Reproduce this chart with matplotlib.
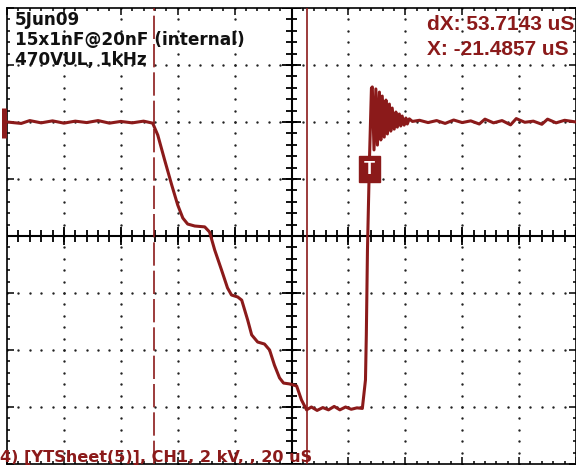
import numpy as np
import matplotlib.pyplot as plt

# scope settings: 20 uS/div, 2 kV/div, 10 x 8 divisions
t_div = 20.0
v_div = 2.0

# CH1 trace (uS, kV)
t_us = [-100, -95, -92, -88, -84, -80, -76, -72, -68, -64, -60, -56, -52, -48.8,
        -47.0, -44.6, -42.1, -40.0, -38.2, -36.5, -34.0, -30.5, -28.8, -27.0,
        -24.6, -22.5, -21.1, -18.9, -17.5, -15.4, -14.0, -11.9, -9.5, -7.7,
        -6.0, -4.2, -2.8, -0.7, 1.8, 3.5, 5.3,
        7, 9, 11, 13, 15, 17, 19, 21, 23, 24.9,
        26.0, 26.3, 26.7, 27.4, 28.1,
        28.4, 29.0, 29.65, 30.2, 30.9, 31.4, 31.9, 32.6, 33.2, 33.7, 34.4,
        34.9, 35.4, 36.1, 36.7, 37.2, 37.9, 38.4, 38.9, 39.6, 40.2, 40.7, 41.4,
        42.5, 45, 48, 51, 54, 57, 60, 63, 66, 68, 71, 74, 77, 79, 82, 85,
        88, 90, 93, 96, 100]
v_kv = [4.0, 3.95, 4.05, 3.97, 4.04, 3.96, 4.03, 3.98, 4.05, 3.96, 4.02, 3.97, 4.03, 3.96,
        3.54, 2.67, 1.79, 1.09, 0.63, 0.42, 0.35, 0.32, 0.14, -0.49,
        -1.19, -1.82, -2.07, -2.14, -2.25, -2.95, -3.47, -3.72, -3.79, -4.0,
        -4.53, -4.98, -5.16, -5.19, -5.26, -5.75, -6.1,
        -6.0, -6.12, -6.02, -6.1, -5.98, -6.1, -6.0, -6.08, -6.03, -6.05,
        -5.05, -3.47, -0.49, 2.67, 5.19,
        5.23, 3.02, 5.16, 3.19, 5.05, 3.37, 4.91, 3.47, 4.77, 3.58, 4.63,
        3.68, 4.49, 3.75, 4.35, 3.82, 4.28, 3.86, 4.21, 3.89, 4.14, 3.93, 4.11,
        4.02, 4.06, 3.98, 4.05, 3.95, 4.07, 3.98, 4.04, 3.93, 4.1, 3.97, 4.05,
        3.9, 4.12, 3.99, 4.03, 3.92, 4.1, 3.97, 4.06, 4.0]

cursor_a = -48.3    # dashed cursor
cursor_b = 5.4      # solid cursor
trig_t, trig_v = 27.4, 2.35
ch1_level = 4.0

info_lines = ["5Jun09", "15x1nF@20nF (internal)", "470VUL, 1kHz"]
cursor_text = ["dX: 53.7143 uS", "X: -21.4857 uS"]
footer = "4) [YTSheet(5)], CH1, 2 kV, , 20 uS"

red = "#8b1a1a"

fig = plt.figure(figsize=(5.76, 4.66), dpi=100)
ax = fig.add_axes([7/576, 2/466, 569/576, 456/466])
xmax, ymax = 5*t_div, 4*v_div
ax.set_xlim(-xmax, xmax)
ax.set_ylim(-ymax, ymax)

# frame with inward ticks
for sp in ax.spines.values():
    sp.set_color("black")
    sp.set_linewidth(1.2)
ax.set_xticks(np.arange(-xmax, xmax + 0.1, t_div))
ax.set_xticks(np.arange(-xmax, xmax + 0.1, t_div/5), minor=True)
ax.set_yticks(np.arange(-ymax, ymax + 0.1, v_div))
ax.set_yticks(np.arange(-ymax, ymax + 0.1, v_div/5), minor=True)
ax.tick_params(which="both", direction="in", top=True, right=True,
               labelbottom=False, labelleft=False, color="black", width=1.1)
ax.tick_params(which="major", length=5)
ax.tick_params(which="minor", length=2.5)

# dotted graticule
mx = np.arange(-xmax, xmax + 0.1, t_div/5)
my = np.arange(-ymax, ymax + 0.1, v_div/5)
for gx in np.arange(-xmax + t_div, xmax, t_div):
    if gx != 0:
        ax.scatter(np.full_like(my, gx), my, s=3, color="#222222", lw=0, zorder=1)
for gy in np.arange(-ymax + v_div, ymax, v_div):
    if gy != 0:
        ax.scatter(mx, np.full_like(mx, gy), s=3, color="#222222", lw=0, zorder=1)

# centre cross with tick marks
ax.axhline(0, color="black", lw=1.5, zorder=2)
ax.axvline(0, color="black", lw=1.5, zorder=2)
tx_minor = 0.1 * v_div
ty_minor = 0.1 * t_div
ax.vlines(mx, -tx_minor, tx_minor, color="black", lw=1.3, zorder=2)
ax.hlines(my, -ty_minor, ty_minor, color="black", lw=1.3, zorder=2)
mjx = np.arange(-xmax, xmax + 0.1, t_div)
mjy = np.arange(-ymax, ymax + 0.1, v_div)
ax.vlines(mjx, -1.6*tx_minor, 1.6*tx_minor, color="black", lw=1.3, zorder=2)
ax.hlines(mjy, -1.6*ty_minor, 1.6*ty_minor, color="black", lw=1.3, zorder=2)

# cursors
ax.axvline(cursor_a, color=red, lw=1.2, dashes=(14, 3), zorder=3)
ax.axvline(cursor_b, color=red, lw=1.2, zorder=3)

# trace
ax.plot(t_us, v_kv, color=red, lw=2.2, zorder=4)

# channel marker on left edge
ax.plot([-101.1, -101.1], [ch1_level - 0.55, ch1_level + 0.5], color=red,
        lw=3.6, solid_capstyle="butt", clip_on=False, zorder=5)

# trigger marker
ax.text(trig_t, trig_v, "T", color="white", fontsize=13, fontweight="bold",
        ha="center", va="center", family="Liberation Sans", zorder=6,
        bbox=dict(boxstyle="square,pad=0.25", fc=red, ec=red))

# annotations
for i, s in enumerate(info_lines):
    fig.text(15/576, 1 - (25 + 20*i)/466, s, color="#111111", fontsize=12.2,
             fontweight="bold", family="DejaVu Sans", va="baseline")
for i, s in enumerate(cursor_text):
    fig.text(427/576, 1 - (30 + 25*i)/466, s, color=red, fontsize=15,
             fontweight="bold", family="Liberation Sans", va="baseline")
fig.text(0, 4/466, footer, color=red, fontsize=11.6, fontweight="bold",
         family="DejaVu Sans", va="baseline")

fig.savefig("out.png", dpi=100)
